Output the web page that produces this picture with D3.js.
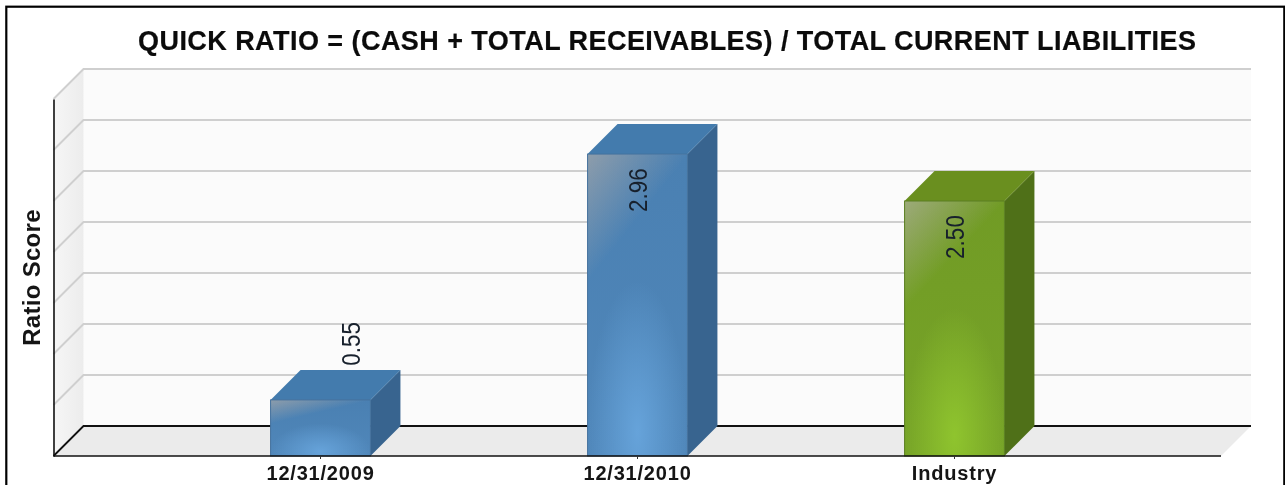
<!DOCTYPE html>
<html>
<head>
<meta charset="utf-8">
<script src="https://cdn.jsdelivr.net/npm/d3@7"></script>
<style>
html,body{margin:0;padding:0;background:#fff;overflow:hidden}
svg{display:block;filter:blur(0.35px)}
text{font-family:"Liberation Sans",Arial,sans-serif}
</style>
</head>
<body>
<svg id="c" width="1285" height="485"></svg>
<script>
const titleText = "QUICK RATIO = (CASH + TOTAL RECEIVABLES) / TOTAL CURRENT LIABILITIES";
const yAxisTitle = "Ratio Score";
const categories = ["12/31/2009", "12/31/2010", "Industry"];
const values = [0.55, 2.96, 2.50];
const yTicks = [0, 0.5, 1, 1.5, 2, 2.5, 3, 3.5];
const benchmarkCategory = "Industry";

const depth = 30;
const svg = d3.select("#c");
const y = d3.scaleLinear().domain([0, 3.5]).range([456, 99]);
const xAxisRange = [53.5, 1221];
const x = d3.scaleBand().domain(categories).range([162, 1113]).paddingInner(0.685).paddingOuter(0.3425);

const shades = {
  blue:  {top:"#437bad", side:"#38648f", edge:"#44719d", low:"#5087ba", mid:"#4a80b2", glow:"#66a3da", high:"#a8a8a8"},
  green: {top:"#6a8f1f", side:"#4f7018", edge:"#5b7f22", low:"#77a428", mid:"#719b25", glow:"#8fc42e", high:"#aeb09c"}
};

const defs = svg.append("defs");
const wall = defs.append("linearGradient").attr("id","sideWall").attr("x1",0).attr("x2",1).attr("y1",0).attr("y2",0);
wall.append("stop").attr("offset",0).attr("stop-color","#f6f6f6");
wall.append("stop").attr("offset",1).attr("stop-color","#ececec");
Object.entries(shades).forEach(([k,s]) => {
  const base = defs.append("linearGradient").attr("id",`base-${k}`).attr("x1",0).attr("x2",0).attr("y1",0).attr("y2",1);
  base.append("stop").attr("offset",0).attr("stop-color",s.mid);
  base.append("stop").attr("offset",1).attr("stop-color",s.low);
  const glow = defs.append("radialGradient").attr("id",`glow-${k}`).attr("cx",0.5).attr("cy",0.92).attr("r",0.5);
  glow.append("stop").attr("offset",0).attr("stop-color",s.glow).attr("stop-opacity",1);
  glow.append("stop").attr("offset",1).attr("stop-color",s.glow).attr("stop-opacity",0);
  const high = defs.append("linearGradient").attr("id",`high-${k}`).attr("x1",0).attr("x2",0.15).attr("y1",0).attr("y2",0.36);
  high.append("stop").attr("offset",0).attr("stop-color",s.high).attr("stop-opacity",0.72);
  high.append("stop").attr("offset",1).attr("stop-color",s.high).attr("stop-opacity",0);
});

svg.append("rect").attr("x",6.3).attr("y",6.7).attr("width",1278).attr("height",500)
  .attr("fill","#fff").attr("stroke","#000").attr("stroke-width",2.2);

svg.append("text").attr("x",667).attr("y",50).attr("text-anchor","middle")
  .attr("font-size",27).attr("font-weight","bold").attr("fill","#0b0b0b")
  .attr("stroke","#0b0b0b").attr("stroke-width",0.2)
  .attr("textLength",1058).attr("lengthAdjust","spacing").text(titleText);

const poly = pts => pts.map(p => p.join(",")).join(" ");
const [x0, x1] = xAxisRange;

svg.append("polygon").attr("fill","#fbfbfb")
  .attr("points",poly([[x0+depth,y(3.5)-depth],[x1+depth,y(3.5)-depth],[x1+depth,y(0)-depth],[x0+depth,y(0)-depth]]));
svg.append("polygon").attr("fill","url(#sideWall)")
  .attr("points",poly([[x0,y(3.5)],[x0+depth,y(3.5)-depth],[x0+depth,y(0)-depth],[x0,y(0)]]));
svg.append("polygon").attr("fill","#ebebeb")
  .attr("points",poly([[x0,y(0)],[x0+depth,y(0)-depth],[x1+depth,y(0)-depth],[x1,y(0)]]));

const grid = yTicks.filter(t => t > 0);
svg.append("g").selectAll("path").data(grid).join("path")
  .attr("fill","none").attr("stroke","#cfcfcf").attr("stroke-width",2)
  .attr("d", t => `M${x0},${y(t)}L${x0+depth},${y(t)-depth}L${x1+depth},${y(t)-depth}`);

svg.append("path").attr("fill","none").attr("stroke","#111").attr("stroke-width",1.8)
  .attr("d",`M${x0},${y(0)}L${x0+depth},${y(0)-depth}L${x1+depth},${y(0)-depth}`);

const bars = svg.append("g").selectAll("g").data(categories.map((c,i)=>({c,v:values[i]}))).join("g");
bars.each(function(d){
  const g = d3.select(this);
  const k = d.c === benchmarkCategory ? "green" : "blue";
  const s = shades[k];
  const l = x(d.c), r = l + x.bandwidth(), t = y(d.v), b = y(0);
  g.append("polygon").attr("fill",s.side).attr("points",poly([[r,t],[r+depth,t-depth],[r+depth,b-depth],[r,b]]));
  g.append("polygon").attr("fill",s.top).attr("points",poly([[l,t],[l+depth,t-depth],[r+depth,t-depth],[r,t]]));
  ["base","glow","high"].forEach(n => {
    g.append("rect").attr("x",l).attr("y",t).attr("width",r-l).attr("height",b-t).attr("fill",`url(#${n}-${k})`);
  });
  g.append("rect").attr("x",l).attr("y",t).attr("width",r-l).attr("height",b-t)
    .attr("fill","none").attr("stroke",s.edge).attr("stroke-width",1);
});

const yAxis = d3.axisLeft(y).tickValues([]).tickSize(0);
svg.append("g").attr("transform",`translate(${x0},0)`).call(yAxis)
  .select(".domain").attr("stroke","#111").attr("stroke-width",1.6);

const xAxis = d3.axisBottom(x).tickSize(3).tickSizeOuter(0);
const gx = svg.append("g").attr("transform",`translate(0,${y(0)})`).call(xAxis);
gx.select(".domain").attr("d",`M${x0},0H${x1}`).attr("stroke","#111").attr("stroke-width",1.6);
gx.selectAll(".tick line").attr("stroke","#333");
gx.selectAll(".tick text").attr("y",0).attr("dy",0)
  .attr("transform","translate(0,24)")
  .attr("font-family",'"Liberation Sans",Arial,sans-serif')
  .attr("font-size",20).attr("font-weight","bold").attr("fill","#151515")
  .style("letter-spacing","0.8px");

svg.append("text").attr("transform","translate(40,277.5) rotate(-90)")
  .attr("text-anchor","middle").attr("font-size",24).attr("font-weight","bold").attr("fill","#151515")
  .style("letter-spacing","0.3px").text(yAxisTitle);

const labelFont = 22.5, labelBoxLen = 44;
bars.append("text")
  .attr("transform", d => {
    const cx = x(d.c) + x.bandwidth()/2;
    const tall = y(0) - y(d.v) > labelBoxLen + 20;
    const px = tall ? cx + 9.5 : cx + depth + 9.5;
    const py = tall ? y(d.v) + 14 + labelBoxLen/2 : y(d.v) - depth - 4 - labelBoxLen/2;
    return `translate(${px},${py}) rotate(-90) scale(1,1.12)`;
  })
  .attr("text-anchor","middle").attr("font-size",labelFont).attr("fill","#17202c")
  .text(d => d3.format(".2f")(d.v));
</script>
</body>
</html>
